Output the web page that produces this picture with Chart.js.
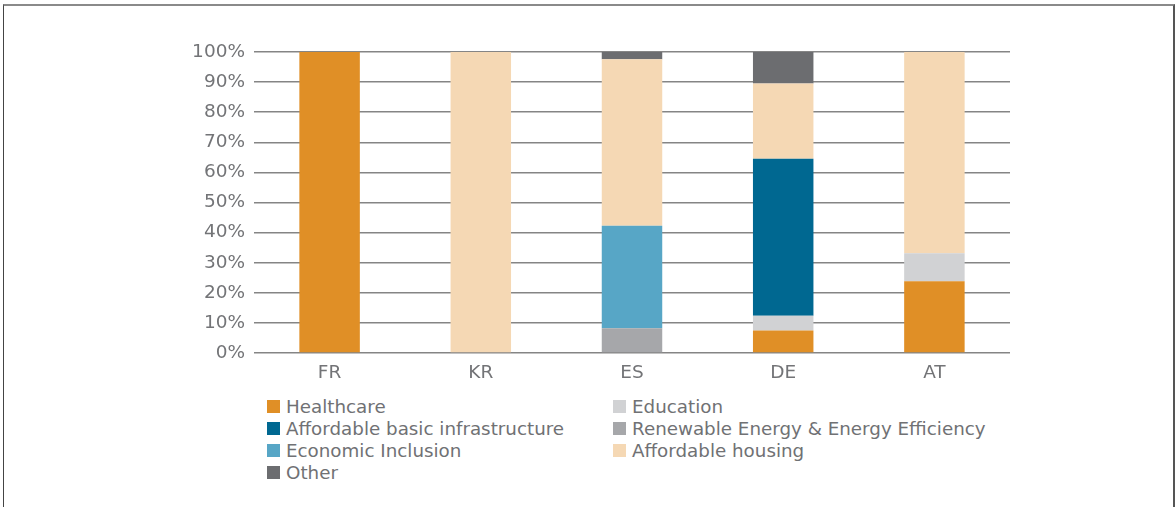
<!DOCTYPE html>
<html>
<head>
<meta charset="utf-8">
<script src="https://cdn.jsdelivr.net/npm/chart.js@4.4.1/dist/chart.umd.min.js"></script>
<style>
  html, body { margin: 0; padding: 0; background: #fff; }
  #frame {
    position: absolute; left: 3px; top: 4px; width: 1169px; height: 510px;
    border-top: 2px solid #8a8a8a; border-left: 1px solid #444; border-right: 2px solid #555;
  }
  #wrap { position: absolute; left: 0; top: 0; width: 1175px; height: 391px; }
  #legend {
    position: absolute; left: 267px; top: 395px; width: 800px;
    font-family: "DejaVu Sans", Verdana, sans-serif; font-size: 18.3px; color: #707174;
    display: grid; grid-template-columns: 346px 420px; grid-auto-rows: 22px;
  }
  .item { display: flex; align-items: center; white-space: nowrap; }
  .sw { width: 13px; height: 13px; margin-right: 6px; flex: none; }
</style>
</head>
<body>
<div id="frame"></div>
<div id="wrap"><canvas id="chart"></canvas></div>
<div id="legend"></div>
<script>
// countries
const categories = ['FR', 'KR', 'ES', 'DE', 'AT'];

// shares per country, percent
const healthcare = [100, 0, 0, 7.5, 23.8];
const education = [0, 0, 0, 4.9, 9.3];
const basicInfrastructure = [0, 0, 0, 52.1, 0];
const renewableEnergy = [0, 0, 8.2, 0, 0];
const economicInclusion = [0, 0, 34.1, 0, 0];
const affordableHousing = [0, 100, 55.3, 25.0, 66.9];
const other = [0, 0, 2.4, 10.5, 0];

const yTicks = [0, 10, 20, 30, 40, 50, 60, 70, 80, 90, 100];

// stacking order, bottom to top
const series = [
  { label: 'Healthcare', data: healthcare, color: '#e08f26' },
  { label: 'Education', data: education, color: '#d1d2d4' },
  { label: 'Affordable basic infrastructure', data: basicInfrastructure, color: '#006891' },
  { label: 'Renewable Energy & Energy Efficiency', data: renewableEnergy, color: '#a6a7aa' },
  { label: 'Economic Inclusion', data: economicInclusion, color: '#57a6c6' },
  { label: 'Affordable housing', data: affordableHousing, color: '#f5d8b4' },
  { label: 'Other', data: other, color: '#6c6d70' },
];

// legend order as printed under the chart (two columns)
const legendOrder = [
  'Healthcare', 'Education',
  'Affordable basic infrastructure', 'Renewable Energy & Energy Efficiency',
  'Economic Inclusion', 'Affordable housing',
  'Other',
];

const font = { family: '"DejaVu Sans", Verdana, sans-serif', size: 18.5 };

new Chart(document.getElementById('chart'), {
  type: 'bar',
  data: {
    labels: categories,
    datasets: series.map(s => ({
      label: s.label,
      data: s.data,
      backgroundColor: s.color,
      borderWidth: 0,
      categoryPercentage: 1,
      barPercentage: 0.4,
    })),
  },
  options: {
    responsive: true,
    maintainAspectRatio: false,
    animation: false,
    layout: {
      padding: { left: 182, right: 165, top: 52, bottom: 0 },
    },
    plugins: {
      legend: { display: false },
      tooltip: { enabled: false },
    },
    scales: {
      x: {
        stacked: true,
        grid: { display: false },
        border: { display: false },
        ticks: { color: '#737477', font: font, padding: 1 },
        afterFit: s => { s.height = 38; },
      },
      y: {
        stacked: true,
        min: 0,
        max: 100,
        afterBuildTicks: s => { s.ticks = yTicks.map(v => ({ value: v })); },
        grid: { color: '#858585', lineWidth: 1.5, drawTicks: false },
        border: { display: false },
        ticks: {
          color: '#737477',
          font: font,
          padding: 9,
          callback: v => v + '%',
        },
        afterFit: s => { s.width = 72; },
      },
    },
  },
});

// html legend
const legend = document.getElementById('legend');
legendOrder.forEach(name => {
  const s = series.find(x => x.label === name);
  const item = document.createElement('div');
  item.className = 'item';
  item.innerHTML = '<span class="sw" style="background:' + s.color + '"></span>';
  item.appendChild(document.createTextNode(s.label));
  legend.appendChild(item);
});
</script>
</body>
</html>
